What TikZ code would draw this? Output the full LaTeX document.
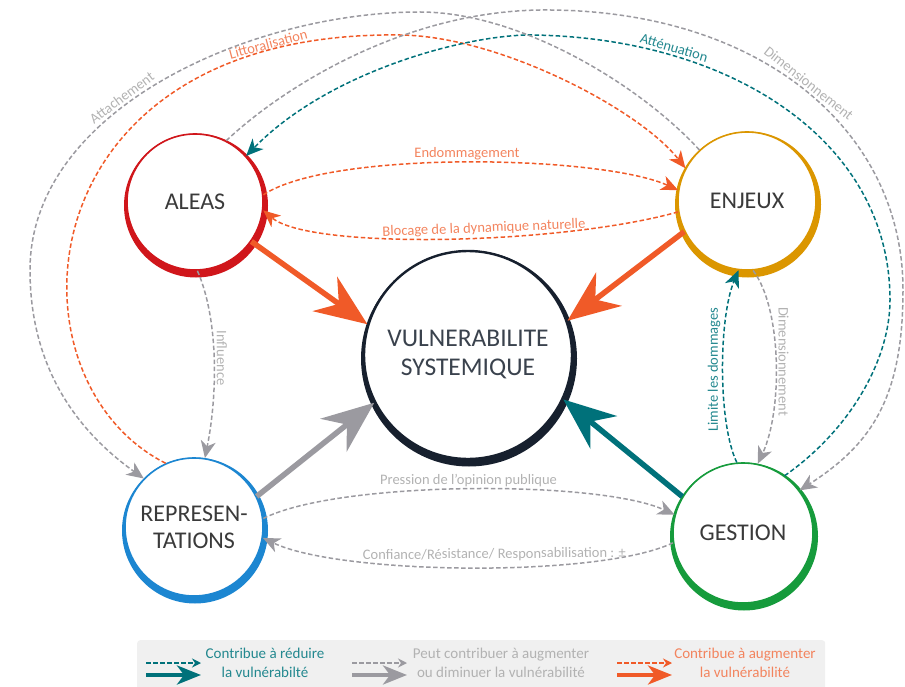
\documentclass[tikz,border=0pt]{standalone}
\usepackage{fontspec}
\setmainfont{Carlito}
\usepackage{tikz}
\usetikzlibrary{arrows.meta}
\usetikzlibrary{positioning}
\tikzset{font={\fontsize{14.5pt}{16}\selectfont}}
\usepackage{xcolor}
\definecolor{rougeA}{HTML}{D0161B}
\definecolor{orJ}{HTML}{DB9600}
\definecolor{bleuR}{HTML}{1C86D1}
\definecolor{vertG}{HTML}{169B3C}
\definecolor{nuit}{HTML}{17202E}
\definecolor{sarc}{HTML}{F05A28}
\definecolor{sarcL}{HTML}{F3845E}
\definecolor{canard}{HTML}{00717A}
\definecolor{canardL}{HTML}{23888F}
\definecolor{gris}{HTML}{9B9AA0}
\definecolor{grisL}{HTML}{B2B2B2}
\definecolor{texte}{HTML}{3A3A3A}
\definecolor{fond}{HTML}{F0F0F0}

\begin{document}
\begin{tikzpicture}[x=1pt,y=1pt,
bubble/.style={circle,draw=#1,line width=1.6pt,fill=white,text=texte,align=center,inner sep=0pt,font={\fontsize{24pt}{27}\selectfont}},
lien/.style={dash pattern=on 4.5pt off 2.5pt,line width=1.5pt,-{Stealth[length=17pt,width=15pt,inset=5pt]}},
fort/.style={line width=5.5pt,-{Stealth[length=52pt,width=42pt,inset=17pt]}},
etiq/.style={inner sep=2pt}
]
\useasboundingbox (0,0) rectangle (905,-687);

%cercles
\node[bubble=nuit,line width=2.4pt,minimum size=208pt,text=nuit!85,font={\fontsize{25.5pt}{29}\selectfont}] (vuln) at (468,-355) {VULNERABILITE\\SYSTEMIQUE};
\node[bubble=rougeA,minimum size=136pt] (aleas) at (195,-202) {ALEAS};
\node[bubble=orJ,minimum size=138pt] (enjeux) at (747,-201) {ENJEUX};
\node[bubble=bleuR,minimum size=138pt] (repr) at (194,-527) {REPRESEN-\\TATIONS};
\node[bubble=vertG,minimum size=140pt] (gestion) at (743,-533) {GESTION};

\foreach \n/\c/\r in {vuln/nuit/104,aleas/rougeA/68,enjeux/orJ/69,repr/bleuR/69,gestion/vertG/70}
  \fill[\c,even odd rule] ([shift={(1,-3.5)}]\n.center) circle[radius={\r pt+4pt}] (\n.center) circle[radius=\r pt];

%fleches fortes
\draw[fort,sarc] (aleas.-35) -- (vuln.163);
\draw[fort,sarc] (enjeux.206) -- (vuln.19);
\draw[fort,gris] (repr.26) -- (vuln.207);
\draw[fort,canard] (gestion.149) -- (vuln.-25);

%liens courts
\draw[lien,sarc] (aleas.6) .. controls +(67,45) and +(-77,35) .. (enjeux.171) node[etiq,pos=.5,above,text=sarcL] {Endommagement};
\draw[lien,sarc] (enjeux.189) .. controls (560,-245) and (310,-250) .. (aleas.-7) node[etiq,pos=.42,sloped,above,text=sarcL] {Blocage de la dynamique naturelle};
\draw[lien,gris] (aleas.-88) .. controls +(21,-48) and +(13,65) .. (repr.81) node[etiq,pos=.5,anchor=south,rotate=-90,text=grisL] {Influence};
\draw[lien,canard] (gestion.95) .. controls +(-19,39) and +(-20,-48) .. (enjeux.-97) node[etiq,pos=.5,anchor=south,rotate=90,text=canardL] {Limite les dommages};
\draw[lien,gris] (enjeux.-85) .. controls +(29,-38) and +(25,53) .. (gestion.78) node[etiq,pos=.5,anchor=south,rotate=-90,text=grisL] {Dimensionnement};
\draw[lien,gris] (repr.7) .. controls +(75,38) and +(-76,35) .. (gestion.165) node[etiq,pos=.5,above,text=grisL] {Pression de l’opinion publique};
\draw[lien,gris] (gestion.188) .. controls (600,-578) and (340,-575) .. (repr.-9) node[etiq,pos=.45,sloped,above=4pt,text=grisL] {Confiance/Résistance/ Responsabilisation : ±};

%grands arcs
\draw[lien,sarc] (repr.114) .. controls (0,-380) and (20,-30) .. (400,-35) node[inner sep=0pt,pos=.87,sloped,above,text=sarcL] {Littoralisation} .. controls (500,-36) and (640,-110) .. (enjeux.152);
\draw[lien,canard] (gestion.54) .. controls (850,-430) and (890,-360) .. (890,-300) .. controls (890,-140) and (730,-38) .. (533,-35) node[etiq,pos=.75,sloped,above,text=canardL] {Atténuation} .. controls (470,-34) and (330,-70) .. (aleas.42);
\draw[lien,gris] (enjeux.133) .. controls (640,-85) and (520,-12) .. (420,-12) .. controls (250,-12) and (30,-110) .. (30,-270) node[etiq,pos=.58,sloped,above,text=grisL] {Attachement} .. controls (30,-380) and (90,-440) .. (repr.136);
\draw[lien,gris] (aleas.63) .. controls (280,-90) and (400,-12) .. (540,-10) .. controls (760,-8) and (903,-130) .. (903,-290) node[etiq,pos=.5,sloped,above,text=grisL] {Dimensionnement} .. controls (903,-400) and (870,-445) .. (gestion.37);

%legende
\node[fill=fond,rounded corners=3pt,minimum width=688pt,minimum height=50pt,anchor=north west,inner sep=0pt] (legende) at (137,-640) {};
\foreach \x/\c in {146/canard,352/gris,617/sarc}{
  \draw[lien,\c,line width=1.2pt,-{Stealth[length=9pt,width=9pt,inset=3pt]}] (\x,-663) -- ++(55,0);
  \draw[\c,line width=4pt,-{Stealth[length=24pt,width=19pt,inset=7pt]}] (\x,-675) -- ++(55,0);
}
\node[text=canardL,align=center,font={\fontsize{15pt}{19}\selectfont}] (leg1) at (265,-663) {Contribue à réduire\\la vulnérabilté};
\node[text=grisL,align=center,font={\fontsize{15pt}{19}\selectfont}] (leg2) at (501,-663) {Peut contribuer à augmenter\\ou diminuer la vulnérabilité};
\node[text=sarcL,align=center,font={\fontsize{15pt}{19}\selectfont}] (leg3) at (745,-663) {Contribue à augmenter\\la vulnérabilité};

\end{tikzpicture}
\end{document}
